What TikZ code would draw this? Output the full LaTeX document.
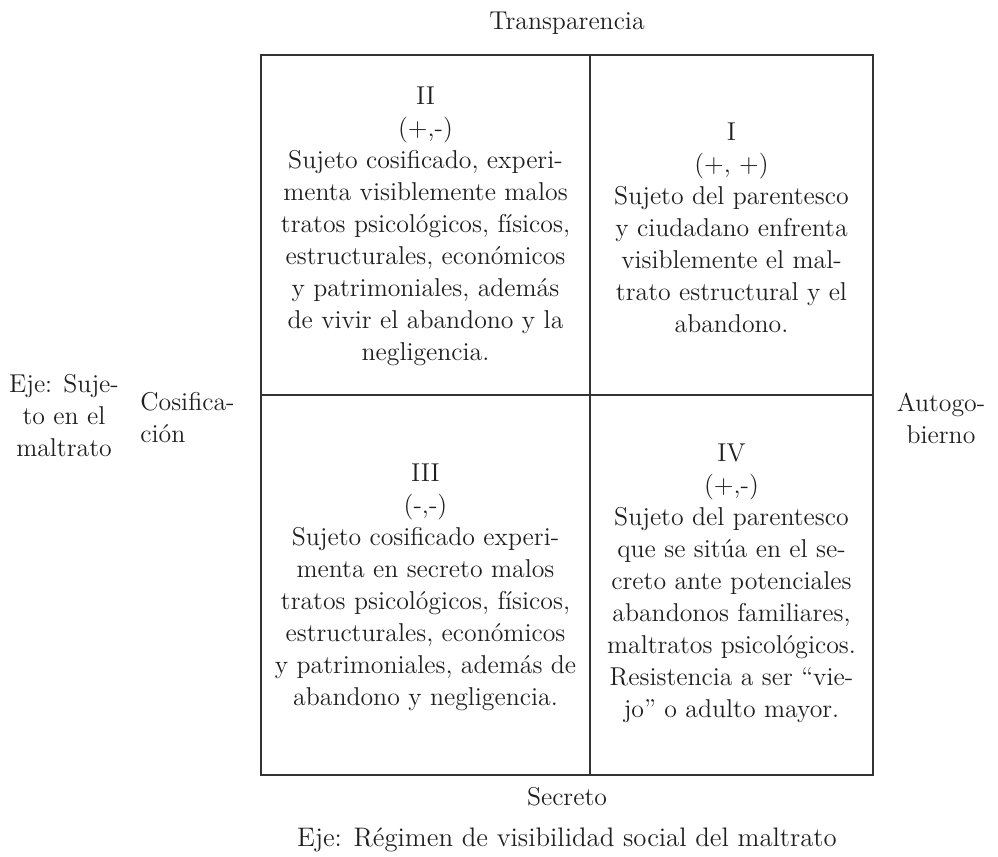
\documentclass[tikz,border=0pt]{standalone}
\usepackage{tikz}
\usetikzlibrary{positioning}
\newcommand{\quadfont}{\fontsize{12.9}{16}\selectfont}
\tikzset{
    quad line/.style = {draw=black!80, line width=0.6pt},
}
\tikzset{
    quad text/.style = {align=center, font=\quadfont, text=black!88, inner sep=0pt},
    side text/.style = {quad text, align=center},
}

\begin{document}
\begin{tikzpicture}[x=0.5pt, y=-0.5pt]
        \useasboundingbox (0, 0) rectangle (998, 857);

        \coordinate (nw) at (261, 55);
        \coordinate (se) at (873, 775);
        \coordinate (n) at (590, 55);
        \coordinate (s) at (590, 775);
        \coordinate (w) at (261, 395);
        \coordinate (e) at (873, 395);

        \draw [quad line] (nw) rectangle (se);
        \draw [quad line] (n) -- (s);
        \draw [quad line] (w) -- (e);

        \node [quad text] (q2) at (425.5, 226) {II\\(+,-)\\Sujeto cosificado, experi-\\menta visiblemente malos\\tratos psicológicos, físicos,\\estructurales, económicos\\y patrimoniales, además\\de vivir el abandono y la\\negligencia.};
        \node [quad text] (q1) at (731.5, 228) {I\\(+, +)\\Sujeto del parentesco\\y ciudadano enfrenta\\visiblemente el mal-\\trato estructural y el\\abandono.};
        \node [quad text] (q3) at (425.5, 587) {III\\(-,-)\\Sujeto cosificado experi-\\menta en secreto malos\\tratos psicológicos, físicos,\\estructurales, económicos\\y patrimoniales, además de\\abandono y negligencia.};
        \node [quad text] (q4) at (731.5, 583) {IV\\(+,-)\\Sujeto del parentesco\\que se sitúa en el se-\\creto ante potenciales\\abandonos familiares,\\maltratos psicológicos.\\Resistencia a ser “vie-\\jo” o adulto mayor.};

        \node [quad text] (top) at (567, 23) {Transparencia};
        \node [quad text] (bottom) at (567, 797) {Secreto};
        \node [quad text, font=\fontsize{13.4}{16}\selectfont] (xaxis) at (567, 840) {Eje: Régimen de visibilidad social del maltrato};

        \node [side text] (yaxis) at (64, 416) {Eje: Suje-\\to en el\\maltrato};
        \node [side text, align=left, anchor=west] (left) at (140, 418) {Cosifica-\\ción};
        \node [side text] (right) at (941, 418) {Autogo-\\bierno};
    \end{tikzpicture}
\end{document}
